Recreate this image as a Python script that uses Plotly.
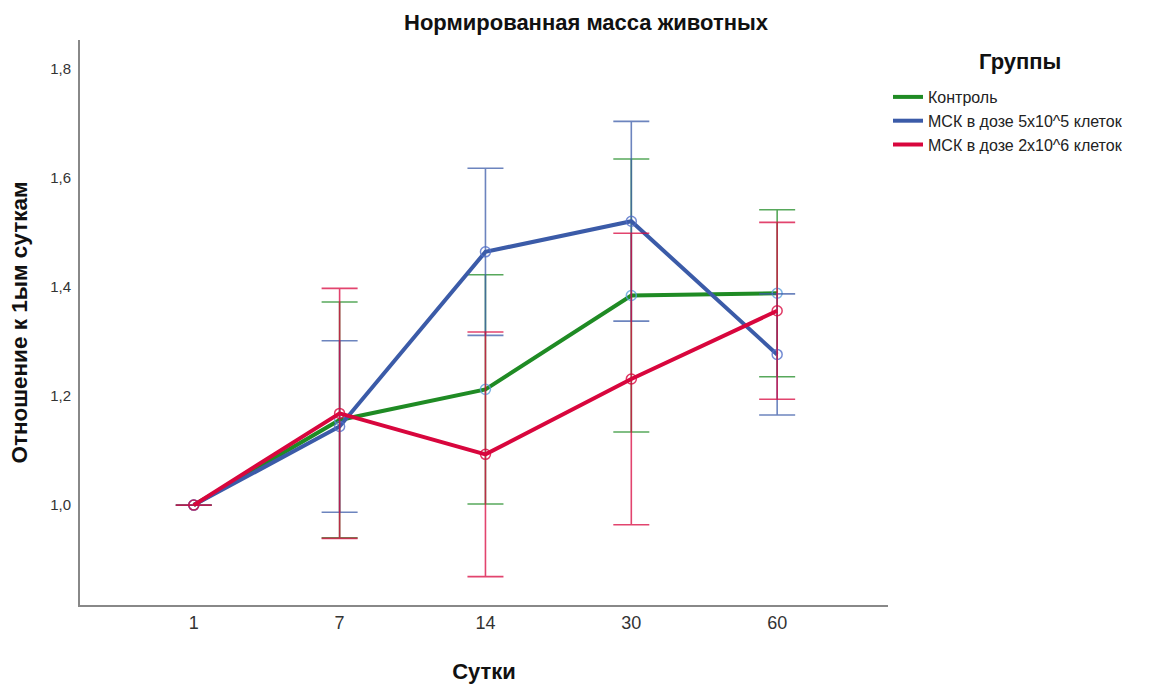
import plotly.graph_objects as go

# Time points (days) and group labels
days = ["1", "7", "14", "30", "60"]
groups = ["Контроль", "МСК в дозе 5x10^5 клеток", "МСК в дозе 2x10^6 клеток"]

# Mean body mass normalised to day 1, with error-bar half-widths
control_mean = [1.000, 1.156, 1.212, 1.384, 1.388]
control_err = [0.000, 0.216, 0.210, 0.250, 0.153]
msc_low_mean = [1.000, 1.144, 1.464, 1.520, 1.276]
msc_low_err = [0.000, 0.157, 0.153, 0.183, 0.111]
msc_high_mean = [1.000, 1.168, 1.093, 1.231, 1.356]
msc_high_err = [0.000, 0.229, 0.224, 0.267, 0.162]

y_ticks = [1.0, 1.2, 1.4, 1.6, 1.8]
y_tick_text = ["1,0", "1,2", "1,4", "1,6", "1,8"]

colors = ["#1f8b24", "#3b5ba8", "#d8063d"]
bar_colors = ["rgba(31,139,36,0.75)", "rgba(59,91,168,0.75)", "rgba(216,6,61,0.75)"]
marker_colors = ["rgba(90,160,220,0.8)", "rgba(80,110,200,0.8)", "rgba(216,6,61,0.8)"]

series = [
    (control_mean, control_err),
    (msc_low_mean, msc_low_err),
    (msc_high_mean, msc_high_err),
]

FONT = "Liberation Sans, Arial, sans-serif"

# plot area in pixels: x 80..888, y 40..605
PX_L, PX_R, PX_T, PX_B = 80, 888, 40, 605


def paper_x(px):
    return (px - PX_L) / (PX_R - PX_L)


def paper_y(py):
    return (PX_B - py) / (PX_B - PX_T)


fig = go.Figure()

for i, (mean, err) in enumerate(series):
    fig.add_trace(go.Scatter(
        x=days, y=mean,
        mode="lines+markers",
        line=dict(color=colors[i], width=4),
        marker=dict(symbol="circle-open", size=10, color=marker_colors[i],
                    line=dict(width=1.5, color=marker_colors[i])),
        error_y=dict(type="data", array=err, visible=True,
                     color=bar_colors[i], thickness=1.6, width=18),
        showlegend=False,
        hoverinfo="x+y",
    ))

# Legend entries drawn as plain line samples
for i, name in enumerate(groups):
    fig.add_trace(go.Scatter(
        x=[None], y=[None], mode="lines", name=name,
        line=dict(color=colors[i], width=4),
    ))

fig.update_layout(
    width=1155, height=684,
    margin=dict(l=PX_L, r=1155 - PX_R, t=PX_T, b=684 - PX_B),
    paper_bgcolor="white", plot_bgcolor="white",
    font=dict(family=FONT, color="#222222"),
    showlegend=True,
    legend=dict(
        x=1.0, xanchor="left", y=paper_y(80), yanchor="top",
        font=dict(size=16, color="#222222"),
        itemwidth=30, tracegroupgap=0,
        bgcolor="rgba(0,0,0,0)",
    ),
    annotations=[
        dict(text="<b>Нормированная масса животных</b>", xref="paper", yref="paper",
             x=paper_x(586), y=paper_y(22), xanchor="center", yanchor="middle",
             showarrow=False, font=dict(size=22, color="#111111")),
        dict(text="<b>Группы</b>", xref="paper", yref="paper",
             x=paper_x(1020), y=paper_y(62), xanchor="center", yanchor="middle",
             showarrow=False, font=dict(size=22, color="#111111")),
    ],
)

fig.update_xaxes(
    type="category", range=[-0.78, 4.76], automargin=False,
    showline=True, linecolor="#888888", linewidth=2,
    ticks="", showgrid=False, zeroline=False,
    tickfont=dict(size=18, color="#333333"),
    title=dict(text="<b>Сутки</b>", font=dict(size=22, color="#111111"), standoff=32),
)
fig.update_yaxes(
    range=[0.817, 1.852], automargin=False,
    tickvals=y_ticks, ticktext=y_tick_text,
    showline=True, linecolor="#888888", linewidth=2,
    ticks="", showgrid=False, zeroline=False,
    tickfont=dict(size=15, color="#333333"),
    ticklabelstandoff=4,
    title=dict(text="<b>Отношение к 1ым суткам</b>", font=dict(size=22.5, color="#111111"), standoff=16),
)

fig.write_html("out.html")
